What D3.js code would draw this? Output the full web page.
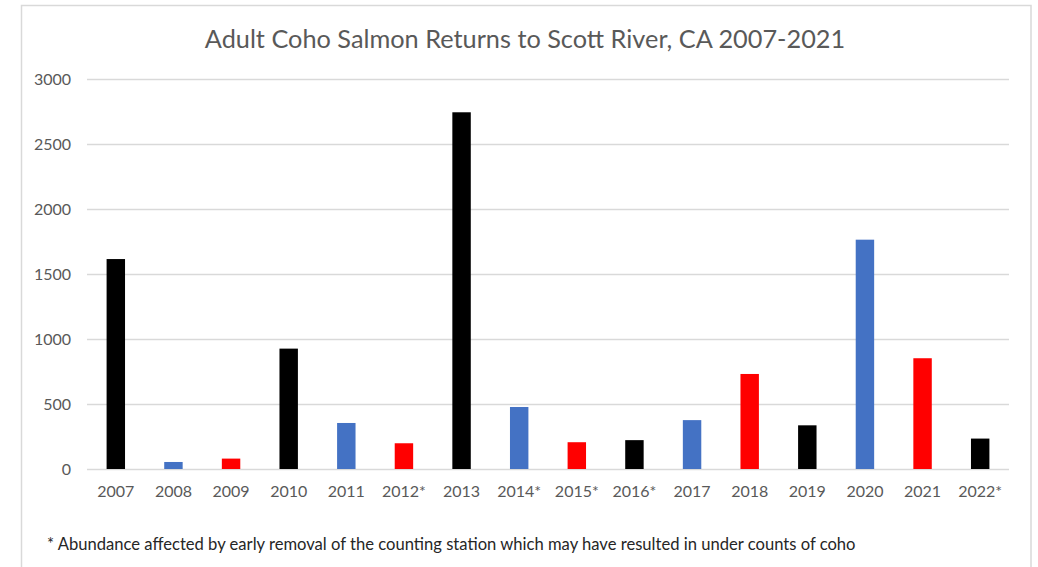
<!DOCTYPE html>
<html>
<head>
<meta charset="utf-8">
<script src="https://cdn.jsdelivr.net/npm/d3@7"></script>
<style>
  html, body { margin: 0; padding: 0; background: #fff; }
  svg { display: block; font-family: Lato, "Open Sans", sans-serif; }
</style>
</head>
<body>
<svg id="chart" width="1038" height="567"></svg>
<script>
// Adult coho returns counted at the Scott River station, by return year
const years = ["2007", "2008", "2009", "2010", "2011", "2012*", "2013", "2014*",
               "2015*", "2016*", "2017", "2018", "2019", "2020", "2021", "2022*"];
const returns = [1615, 54, 80, 926, 354, 198, 2744, 477, 206, 222, 376, 731, 336, 1764, 852, 234];
// brood-year lineage for each bar (three-year coho cycle)
const lineage = ["A", "B", "C", "A", "B", "C", "A", "B", "C", "A", "B", "C", "A", "B", "C", "A"];
const yTicks = [0, 500, 1000, 1500, 2000, 2500, 3000];

const lineageColor = { A: "#000000", B: "#4472C4", C: "#FF0000" };

const svg = d3.select("#chart");
const W = 1038, H = 567;
const plot = { left: 87, right: 1009, top: 79, bottom: 469 };

// chart frame
svg.append("rect")
  .attr("x", 21.5).attr("y", 5.5)
  .attr("width", 1031 - 21.5).attr("height", H)
  .attr("fill", "#fff").attr("stroke", "#d9d9d9").attr("stroke-width", 1.5);

const x = d3.scaleBand()
  .domain(years)
  .range([plot.left, plot.right])
  .paddingInner(0.68)
  .paddingOuter(0.34);

const y = d3.scaleLinear()
  .domain([0, 3000])
  .range([plot.bottom, plot.top]);

// horizontal gridlines
svg.append("g")
  .selectAll("line")
  .data(yTicks)
  .join("line")
  .attr("x1", plot.left).attr("x2", plot.right)
  .attr("y1", d => Math.round(y(d)) + 0.5)
  .attr("y2", d => Math.round(y(d)) + 0.5)
  .attr("stroke", "#d9d9d9")
  .attr("stroke-width", 1.5);

// y axis labels
const yAxis = svg.append("g")
  .attr("transform", `translate(${plot.left - 16},0)`)
  .call(d3.axisLeft(y).tickValues(yTicks).tickSize(0).tickPadding(0).tickFormat(d3.format("d")));
yAxis.select(".domain").remove();
yAxis.selectAll("text")
  .attr("fill", "#595959")
  .style("font-size", "16px")
  .style("font-family", "Lato, sans-serif");

// bars
svg.append("g")
  .selectAll("rect")
  .data(years)
  .join("rect")
  .attr("x", d => x(d))
  .attr("width", x.bandwidth())
  .attr("y", (d, i) => y(returns[i]))
  .attr("height", (d, i) => y(0) - y(returns[i]))
  .attr("fill", (d, i) => lineageColor[lineage[i]]);

// x axis labels
const xAxis = svg.append("g")
  .attr("transform", `translate(0,${plot.bottom})`)
  .call(d3.axisBottom(x).tickSize(0).tickPadding(17));
xAxis.select(".domain").remove();
xAxis.selectAll("text")
  .attr("fill", "#595959")
  .style("font-size", "16px")
  .style("font-family", "Lato, sans-serif");

// title
svg.append("text")
  .attr("x", 525).attr("y", 48)
  .attr("text-anchor", "middle")
  .attr("fill", "#595959")
  .style("font-size", "25.3px")
  .text("Adult Coho Salmon Returns to Scott River, CA 2007-2021");

// footnote
svg.append("text")
  .attr("x", 47).attr("y", 550)
  .attr("fill", "#262626")
  .style("font-size", "16.6px")
  .text("* Abundance affected by early removal of the counting station which may have resulted in under counts of coho");
</script>
</body>
</html>
